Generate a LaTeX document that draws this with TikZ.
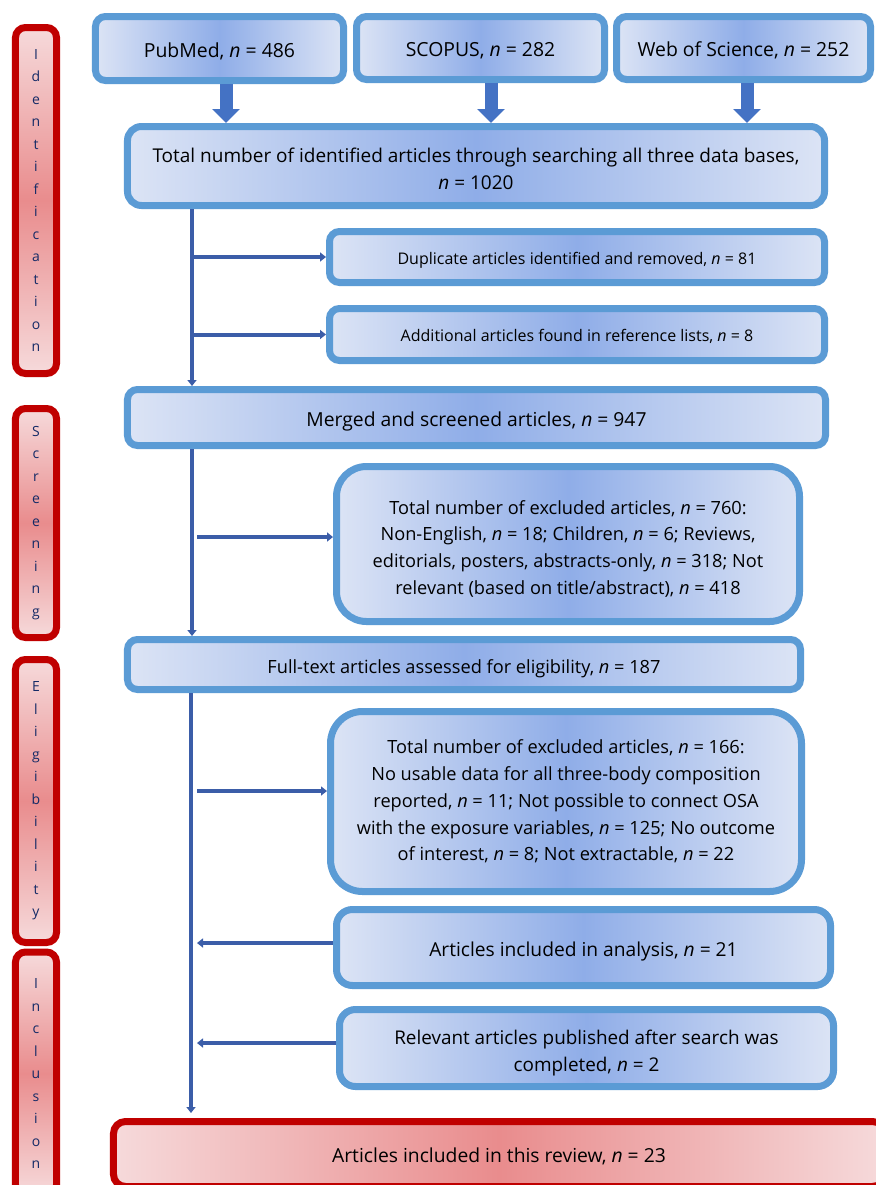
\documentclass[tikz,border=0pt]{standalone}
\usepackage{fontspec}
\setmainfont{Open Sans}
\usetikzlibrary{arrows.meta,calc}
\definecolor{bborder}{HTML}{5B9BD5}
\definecolor{blight}{HTML}{DCE4F5}
\definecolor{bdark}{HTML}{8FADE8}
\definecolor{rborder}{HTML}{C00000}
\definecolor{rlight}{HTML}{F6DADB}
\definecolor{rdark}{HTML}{E98C8D}
\definecolor{navy}{HTML}{142A66}
\definecolor{conn}{HTML}{3B5DA8}
\definecolor{barrow}{HTML}{4472C4}
\newcommand\fsz[1]{\fontsize{#1bp}{26.8bp}\selectfont}
\tikzset{
  bluebox/.style={draw=bborder, line width=7bp, rounded corners=#1,
    left color=blight, right color=blight, middle color=bdark,
    align=center, inner sep=0pt, text=black},
  bluebox/.default=10bp,
  oneline/.style={text height=20bp, text depth=3bp},
  redbar/.style={draw=rborder, line width=7bp, rounded corners=10bp,
    top color=rlight, bottom color=rlight, middle color=rdark,
    align=center, inner sep=0pt, text=navy,
    font=\fontsize{14bp}{22.5bp}\selectfont},
  redbox/.style={draw=rborder, line width=7bp, rounded corners=12bp,
    left color=rlight, right color=rlight, middle color=rdark,
    align=center, inner sep=0pt, text=black},
  blockarrow/.style={line width=13bp, draw=barrow, -{Triangle[width=27bp,length=14bp]}},
  connline/.style={line width=4bp, draw=conn, -{Triangle[width=9bp,length=6bp]}}
}
\begin{document}
\begin{tikzpicture}[x=1bp,y=-1bp]
\clip (0,0) rectangle (876,1185);
\fill[white] (0,0) rectangle (876,1185);

% side bars
\node[redbar, minimum width=41bp, minimum height=346bp] (ident) at (36,200.5)
  {I\\d\\e\\n\\t\\i\\f\\i\\c\\a\\t\\i\\o\\n};
\node[redbar, minimum width=41bp, minimum height=229bp] (screen) at (36,523)
  {S\\c\\r\\e\\e\\n\\i\\n\\g};
\node[redbar, minimum width=41bp, minimum height=283bp] (elig) at (36,801)
  {E\\l\\i\\g\\i\\b\\i\\l\\i\\t\\y};
\node[redbar, minimum width=41bp, minimum height=243bp] (incl) at (36,1073.5)
  {I\\n\\c\\l\\u\\s\\i\\o\\n};

% boxes
\node[bluebox, oneline, minimum width=248bp, minimum height=64bp, font=\fsz{19.4}] (pub) at (219.5,48.5)
  {PubMed, \textit{n} = 486};
\node[bluebox, oneline, minimum width=248bp, minimum height=63bp, font=\fsz{19.4}] (sco) at (480.5,48)
  {SCOPUS, \textit{n} = 282};
\node[bluebox, oneline, minimum width=254bp, minimum height=63bp, font=\fsz{19.4}] (wos) at (743.5,48)
  {Web of Science, \textit{n} = 252};
\node[bluebox=14bp, text height=46.5bp, minimum width=697bp, minimum height=79bp, font=\fsz{19}] (total) at (476,166)
  {Total number of identified articles through searching all three data bases,\\ \textit{n} = 1020};
\node[bluebox, text height=17bp, text depth=3bp, minimum width=495bp, minimum height=51bp, font=\fsz{16}] (dup) at (577,257)
  {Duplicate articles identified and removed, \textit{n} = 81};
\node[bluebox, text height=17bp, text depth=3bp, minimum width=495bp, minimum height=52bp, font=\fsz{16}] (add) at (577,334.5)
  {Additional articles found in reference lists, \textit{n} = 8};
\node[bluebox, oneline, minimum width=698bp, minimum height=56bp, font=\fsz{19.3}] (merged) at (476.5,417.5)
  {Merged and screened articles, \textit{n} = 947};
\node[bluebox=30bp, text height=104bp, minimum width=463bp, minimum height=155bp, font=\fsz{18.2}] (excla) at (568,544)
  {Total number of excluded articles, \textit{n} = 760:\\
   Non-English, \textit{n} = 18; Children, \textit{n} = 6; Reviews,\\
   editorials, posters, abstracts-only, \textit{n} = 318; Not\\
   relevant (based on title/abstract), \textit{n} = 418};
\node[bluebox, oneline, minimum width=673bp, minimum height=50bp, font=\fsz{18.2}] (full) at (464,664.5)
  {Full-text articles assessed for eligibility, \textit{n} = 187};
\node[bluebox=32bp, minimum width=471bp, minimum height=180bp, font=\fsz{18.2}] (exclb) at (566,801.5)
  {Total number of excluded articles, \textit{n} = 166:\\
   No usable data for all three-body composition\\
   reported, \textit{n} = 11; Not possible to connect OSA\\
   with the exposure variables, \textit{n} = 125; No outcome\\
   of interest, \textit{n} = 8; Not extractable, \textit{n} = 22};
\node[bluebox=16bp, oneline, minimum width=494bp, minimum height=76bp, font=\fsz{19.2}] (anal) at (583.5,947.5)
  {Articles included in analysis, \textit{n} = 21};
\node[bluebox=16bp, text height=51bp, minimum width=494bp, minimum height=77bp, font=\fsz{18.9}] (rel) at (586.5,1048)
  {Relevant articles published after search was\\ completed, \textit{n} = 2};
\node[redbox, oneline, minimum width=771bp, minimum height=65bp, font=\fsz{19.3}] (final) at (499,1154)
  {Articles included in this review, \textit{n} = 23};

% block arrows
\coordinate (a1) at ($(pub.south)+(6.5,0)$);
\coordinate (a2) at ($(sco.south)+(10.5,0)$);
\coordinate (a3) at ($(wos.south)+(3.5,0)$);
\draw[blockarrow] (a1) -- (a1 |- total.north);
\draw[blockarrow] (a2) -- (a2 |- total.north);
\draw[blockarrow] (a3) -- (a3 |- total.north);

% spine
\coordinate (sx) at (192,0);
\coordinate (sxb) at (197,0);
\coordinate (sxc) at (191,0);
\draw[connline] (sx |- total.south) -- (sx |- merged.north);
\draw[connline] (sx |- dup.west) -- (dup.west);
\draw[connline] (sx |- add.west) -- (add.west);
\draw[connline] (sx |- merged.south) -- (sx |- full.north);
\coordinate (e1) at ($(excla.west)+(0,-7)$);
\draw[connline] (sxb |- e1) -- (e1);
\draw[connline, shorten >=5bp] (sxc |- full.south) -- (sxc |- final.north);
\coordinate (e2) at ($(exclb.west)+(0,-10.5)$);
\draw[connline] (sxb |- e2) -- (e2);
\coordinate (e3) at ($(anal.west)+(0,-4.5)$);
\draw[connline] (e3) -- (sxb |- e3);
\coordinate (e4) at ($(rel.west)+(0,-5)$);
\draw[connline] (e4) -- (sxb |- e4);
\end{tikzpicture}
\end{document}
